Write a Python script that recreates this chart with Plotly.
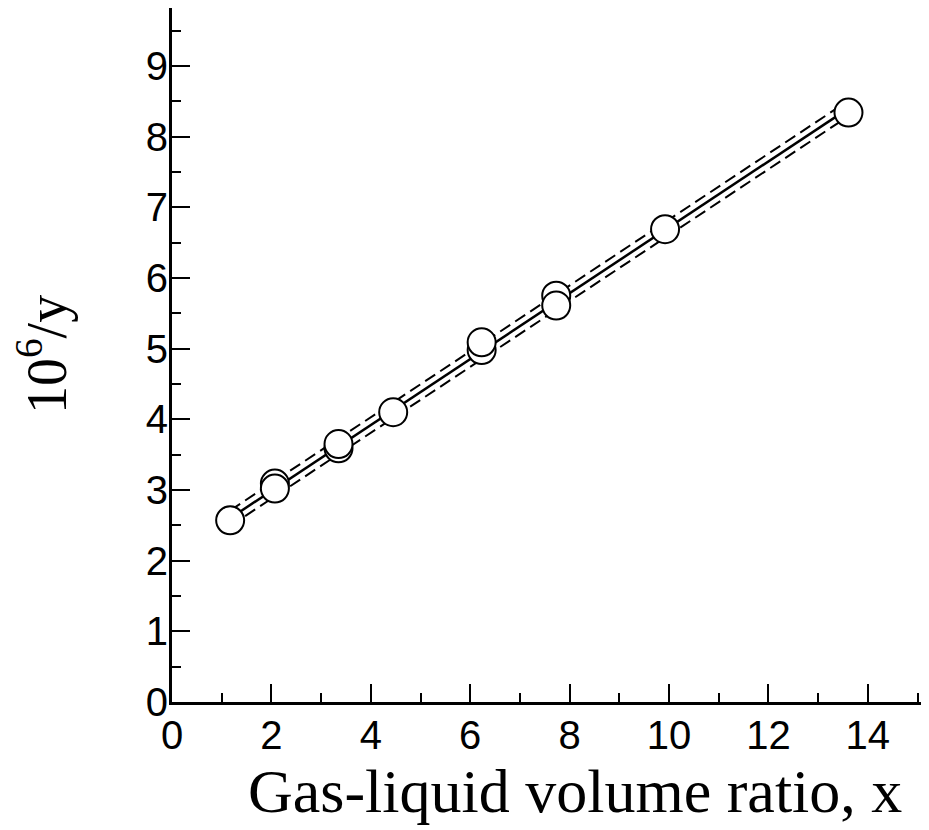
import plotly.graph_objects as go

# Data
x_pts = [1.17, 2.07, 2.07, 3.35, 3.35, 4.45, 6.23, 6.23, 7.73, 7.73, 9.92, 13.61]
y_pts = [2.57, 3.09, 3.02, 3.59, 3.65, 4.10, 4.98, 5.09, 5.75, 5.61, 6.69, 8.34]

fit_x = [1.17, 13.61]
fit_y = [2.60, 8.40]
upper_y = [2.71, 8.51]
lower_y = [2.49, 8.29]

x_tickvals = [0, 2, 4, 6, 8, 10, 12, 14]
y_tickvals = [0, 1, 2, 3, 4, 5, 6, 7, 8, 9]

x_title = "Gas-liquid volume ratio, x"
y_title = "10<sup>6</sup>/y"

fig = go.Figure()
fig.add_trace(go.Scatter(x=fit_x, y=upper_y, mode="lines",
                         line=dict(color="black", width=2, dash="12px,6px"),
                         showlegend=False, hoverinfo="skip"))
fig.add_trace(go.Scatter(x=fit_x, y=lower_y, mode="lines",
                         line=dict(color="black", width=2, dash="12px,6px"),
                         showlegend=False, hoverinfo="skip"))
fig.add_trace(go.Scatter(x=fit_x, y=fit_y, mode="lines",
                         line=dict(color="black", width=2.5),
                         showlegend=False, hoverinfo="skip"))
fig.add_trace(go.Scatter(x=x_pts, y=y_pts, mode="markers",
                         marker=dict(size=28, color="white", line=dict(color="black", width=2)),
                         showlegend=False))

tick_font = dict(family="Liberation Sans, Arial, sans-serif", size=40, color="black")
serif = "Liberation Serif, Times New Roman, serif"

# page body has an 8px margin, so the figure is sized/positioned to compensate
fig.update_layout(
    width=921, height=822,
    margin=dict(l=164, r=0, t=0, b=128),
    paper_bgcolor="white", plot_bgcolor="white",
    xaxis=dict(
        range=[0, 15.23], tickvals=x_tickvals, ticktext=[str(v) for v in x_tickvals],
        showgrid=False, zeroline=False, showline=True, linecolor="black", linewidth=3,
        ticks="inside", ticklen=18, tickwidth=2, tickcolor="black",
        minor=dict(dtick=1, ticks="inside", ticklen=9, tickwidth=2, tickcolor="black", showgrid=False),
        tickfont=tick_font, ticklabelstandoff=-4,
    ),
    yaxis=dict(
        range=[0, 9.82], tickvals=y_tickvals, ticktext=[str(v) for v in y_tickvals],
        showgrid=False, zeroline=False, showline=True, linecolor="black", linewidth=3,
        ticks="inside", ticklen=18, tickwidth=2, tickcolor="black",
        minor=dict(dtick=0.5, ticks="inside", ticklen=9, tickwidth=2, tickcolor="black", showgrid=False),
        tickfont=tick_font, ticklabelstandoff=-7,
    ),
    annotations=[
        dict(text=x_title, xref="paper", yref="paper", x=0.532, y=0,
             xanchor="center", yanchor="middle", yshift=-89, showarrow=False,
             font=dict(family=serif, size=62, color="black")),
        dict(text=y_title, xref="paper", yref="paper", x=0, y=0.5,
             xanchor="center", yanchor="middle", xshift=-130, yshift=0, textangle=-90,
             showarrow=False, font=dict(family=serif, size=56, color="black")),
    ],
)

fig.write_html("out.html")
